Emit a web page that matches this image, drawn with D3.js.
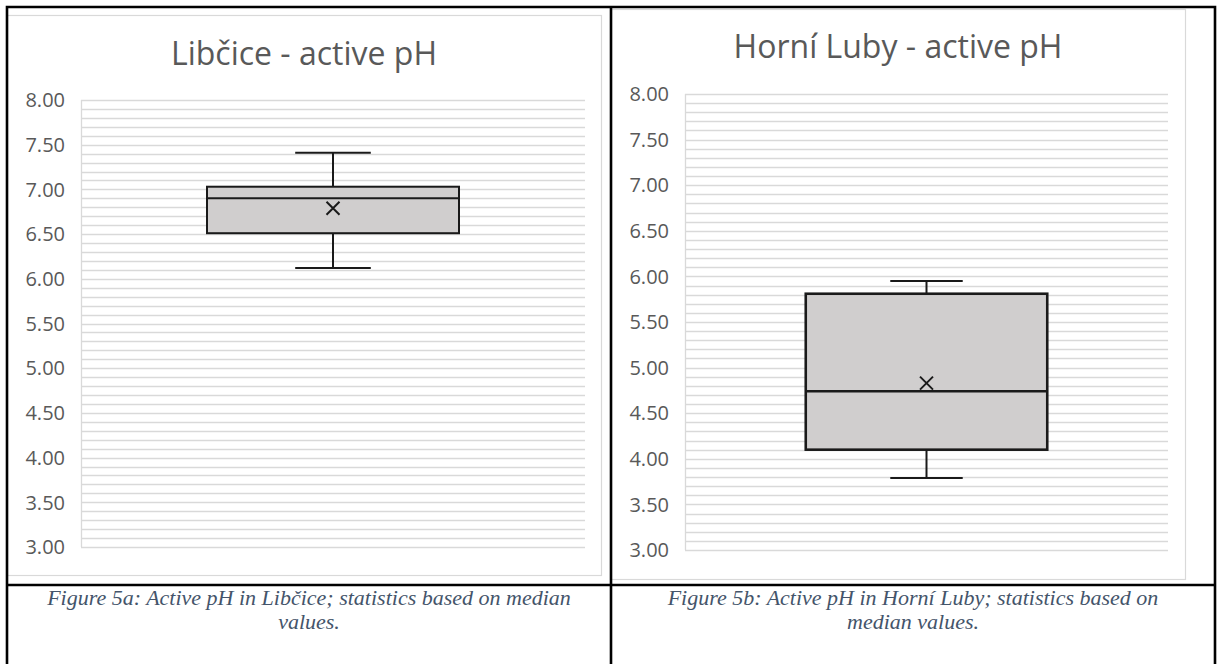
<!DOCTYPE html>
<html lang="en">
<head>
    <meta charset="UTF-8">
    <script src="https://cdnjs.cloudflare.com/ajax/libs/d3/7.8.5/d3.min.js"></script>
    <title>active pH box plots</title>
    <style>
        body { margin: 0; background: #fff; }
        .grid line { stroke: #d9d9d9; stroke-width: 1.3px; }
        .tick-label { font-family: "Open Sans", sans-serif; font-size: 20px; fill: #595959; }
        .title { font-family: "Open Sans", sans-serif; font-size: 32px; fill: #595959; }
        .caption { font-family: "Liberation Serif", "Times New Roman", serif; font-style: italic; font-size: 22px; fill: #44546a; }
        .box { fill: #d0cece; stroke: #1a1a1a; }
        .whisker { stroke: #1a1a1a; stroke-width: 2px; }
    </style>
</head>
<body>
<svg id="page" width="1221" height="664"></svg>
<script>
    // data
    var sites = ["Libčice", "Horní Luby"]
    var titles = ["Libčice - active pH", "Horní Luby - active pH"]
    var mins = [6.12, 3.79]
    var q1s = [6.51, 4.10]
    var medians = [6.90, 4.74]
    var q3s = [7.03, 5.81]
    var maxs = [7.41, 5.95]
    var means = [6.79, 4.83]
    var yTicks = [3.0, 3.5, 4.0, 4.5, 5.0, 5.5, 6.0, 6.5, 7.0, 7.5, 8.0]
    var captions = [
        ["Figure 5a: Active pH in Libčice; statistics based on median", "values."],
        ["Figure 5b: Active pH in Horní Luby; statistics based on", "median values."]
    ]

    // panel layout (pixels)
    var panels = [
        { frame: [7, 15, 594, 560], plot: [81, 585, 100, 547], titleY: 65, labelX: 65, cell: [7, 611], boxStroke: 2 },
        { frame: [611, 9, 574, 570], plot: [685, 1168, 94, 550], titleY: 58, labelX: 669, cell: [611, 1215], boxStroke: 2.6 }
    ]

    var svg = d3.select("#page")
    var fmt = d3.format(".2f")

    panels.forEach(function(p, i) {
        var g = svg.append("g")

        // chart area frame
        g.append("rect")
            .attr("x", p.frame[0] + 0.5).attr("y", p.frame[1] + 0.5)
            .attr("width", p.frame[2]).attr("height", p.frame[3])
            .attr("fill", "#fff").attr("stroke", "#d9d9d9").attr("stroke-width", 1.2)

        var y = d3.scaleLinear().domain([3, 8]).range([p.plot[3], p.plot[2]])
        var x = d3.scaleBand().domain([sites[i]]).range([p.plot[0], p.plot[1]])
            .paddingInner(0).paddingOuter(0.5)

        // minor gridlines every 0.1
        var gridVals = d3.range(30, 81).map(function(v) { return v / 10 })
        g.append("g").attr("class", "grid")
            .selectAll("line").data(gridVals).enter().append("line")
            .attr("x1", p.plot[0]).attr("x2", p.plot[1])
            .attr("y1", function(d) { return Math.round(y(d)) + 0.5 })
            .attr("y2", function(d) { return Math.round(y(d)) + 0.5 })
        g.append("line")
            .attr("x1", p.plot[0] + 0.5).attr("x2", p.plot[0] + 0.5)
            .attr("y1", p.plot[2]).attr("y2", p.plot[3])
            .attr("stroke", "#d9d9d9").attr("stroke-width", 1.3)

        g.selectAll(".tick-label").data(yTicks).enter().append("text")
            .attr("class", "tick-label")
            .attr("x", p.labelX)
            .attr("y", function(d) { return y(d) })
            .attr("dy", "0.36em")
            .attr("text-anchor", "end")
            .text(function(d) { return fmt(d) })

        g.append("text").attr("class", "title")
            .attr("x", (p.frame[0] + p.frame[0] + p.frame[2]) / 2)
            .attr("y", p.titleY)
            .attr("text-anchor", "middle")
            .text(titles[i])

        var bx = x(sites[i])
        var bw = x.bandwidth()
        var cx = bx + bw / 2
        var cap = bw * 0.3

        // whiskers
        g.append("line").attr("class", "whisker")
            .attr("x1", cx).attr("x2", cx).attr("y1", y(maxs[i])).attr("y2", y(q3s[i]))
        g.append("line").attr("class", "whisker")
            .attr("x1", cx).attr("x2", cx).attr("y1", y(q1s[i])).attr("y2", y(mins[i]))
        g.append("line").attr("class", "whisker")
            .attr("x1", cx - cap / 2).attr("x2", cx + cap / 2).attr("y1", y(maxs[i])).attr("y2", y(maxs[i]))
        g.append("line").attr("class", "whisker")
            .attr("x1", cx - cap / 2).attr("x2", cx + cap / 2).attr("y1", y(mins[i])).attr("y2", y(mins[i]))

        // box and median
        g.append("rect").attr("class", "box")
            .attr("x", bx).attr("y", y(q3s[i]))
            .attr("width", bw).attr("height", y(q1s[i]) - y(q3s[i]))
            .attr("stroke-width", p.boxStroke)
        g.append("line")
            .attr("x1", bx).attr("x2", bx + bw)
            .attr("y1", y(medians[i])).attr("y2", y(medians[i]))
            .attr("stroke", "#1a1a1a").attr("stroke-width", p.boxStroke)

        // mean marker
        var my = y(means[i]), s = 6.5
        g.append("path")
            .attr("d", "M" + (cx - s) + "," + (my - s) + "L" + (cx + s) + "," + (my + s) +
                "M" + (cx - s) + "," + (my + s) + "L" + (cx + s) + "," + (my - s))
            .attr("stroke", "#1a1a1a").attr("stroke-width", 2).attr("fill", "none")

        // caption cell
        var ccx = (p.cell[0] + p.cell[1]) / 2
        g.selectAll(".caption").data(captions[i]).enter().append("text")
            .attr("class", "caption")
            .attr("x", ccx)
            .attr("y", function(d, j) { return 605 + j * 24 })
            .attr("text-anchor", "middle")
            .text(function(d) { return d })
    })

    // table borders
    var border = svg.append("g").attr("stroke", "#000").attr("stroke-width", 2.6).attr("fill", "none")
    border.append("path").attr("d", "M7,700 L7,7 L1215,7 L1215,700")
    border.append("line").attr("x1", 611).attr("x2", 611).attr("y1", 7).attr("y2", 700)
    border.append("line").attr("x1", 7).attr("x2", 1215).attr("y1", 585).attr("y2", 585)
</script>
</body>
</html>
